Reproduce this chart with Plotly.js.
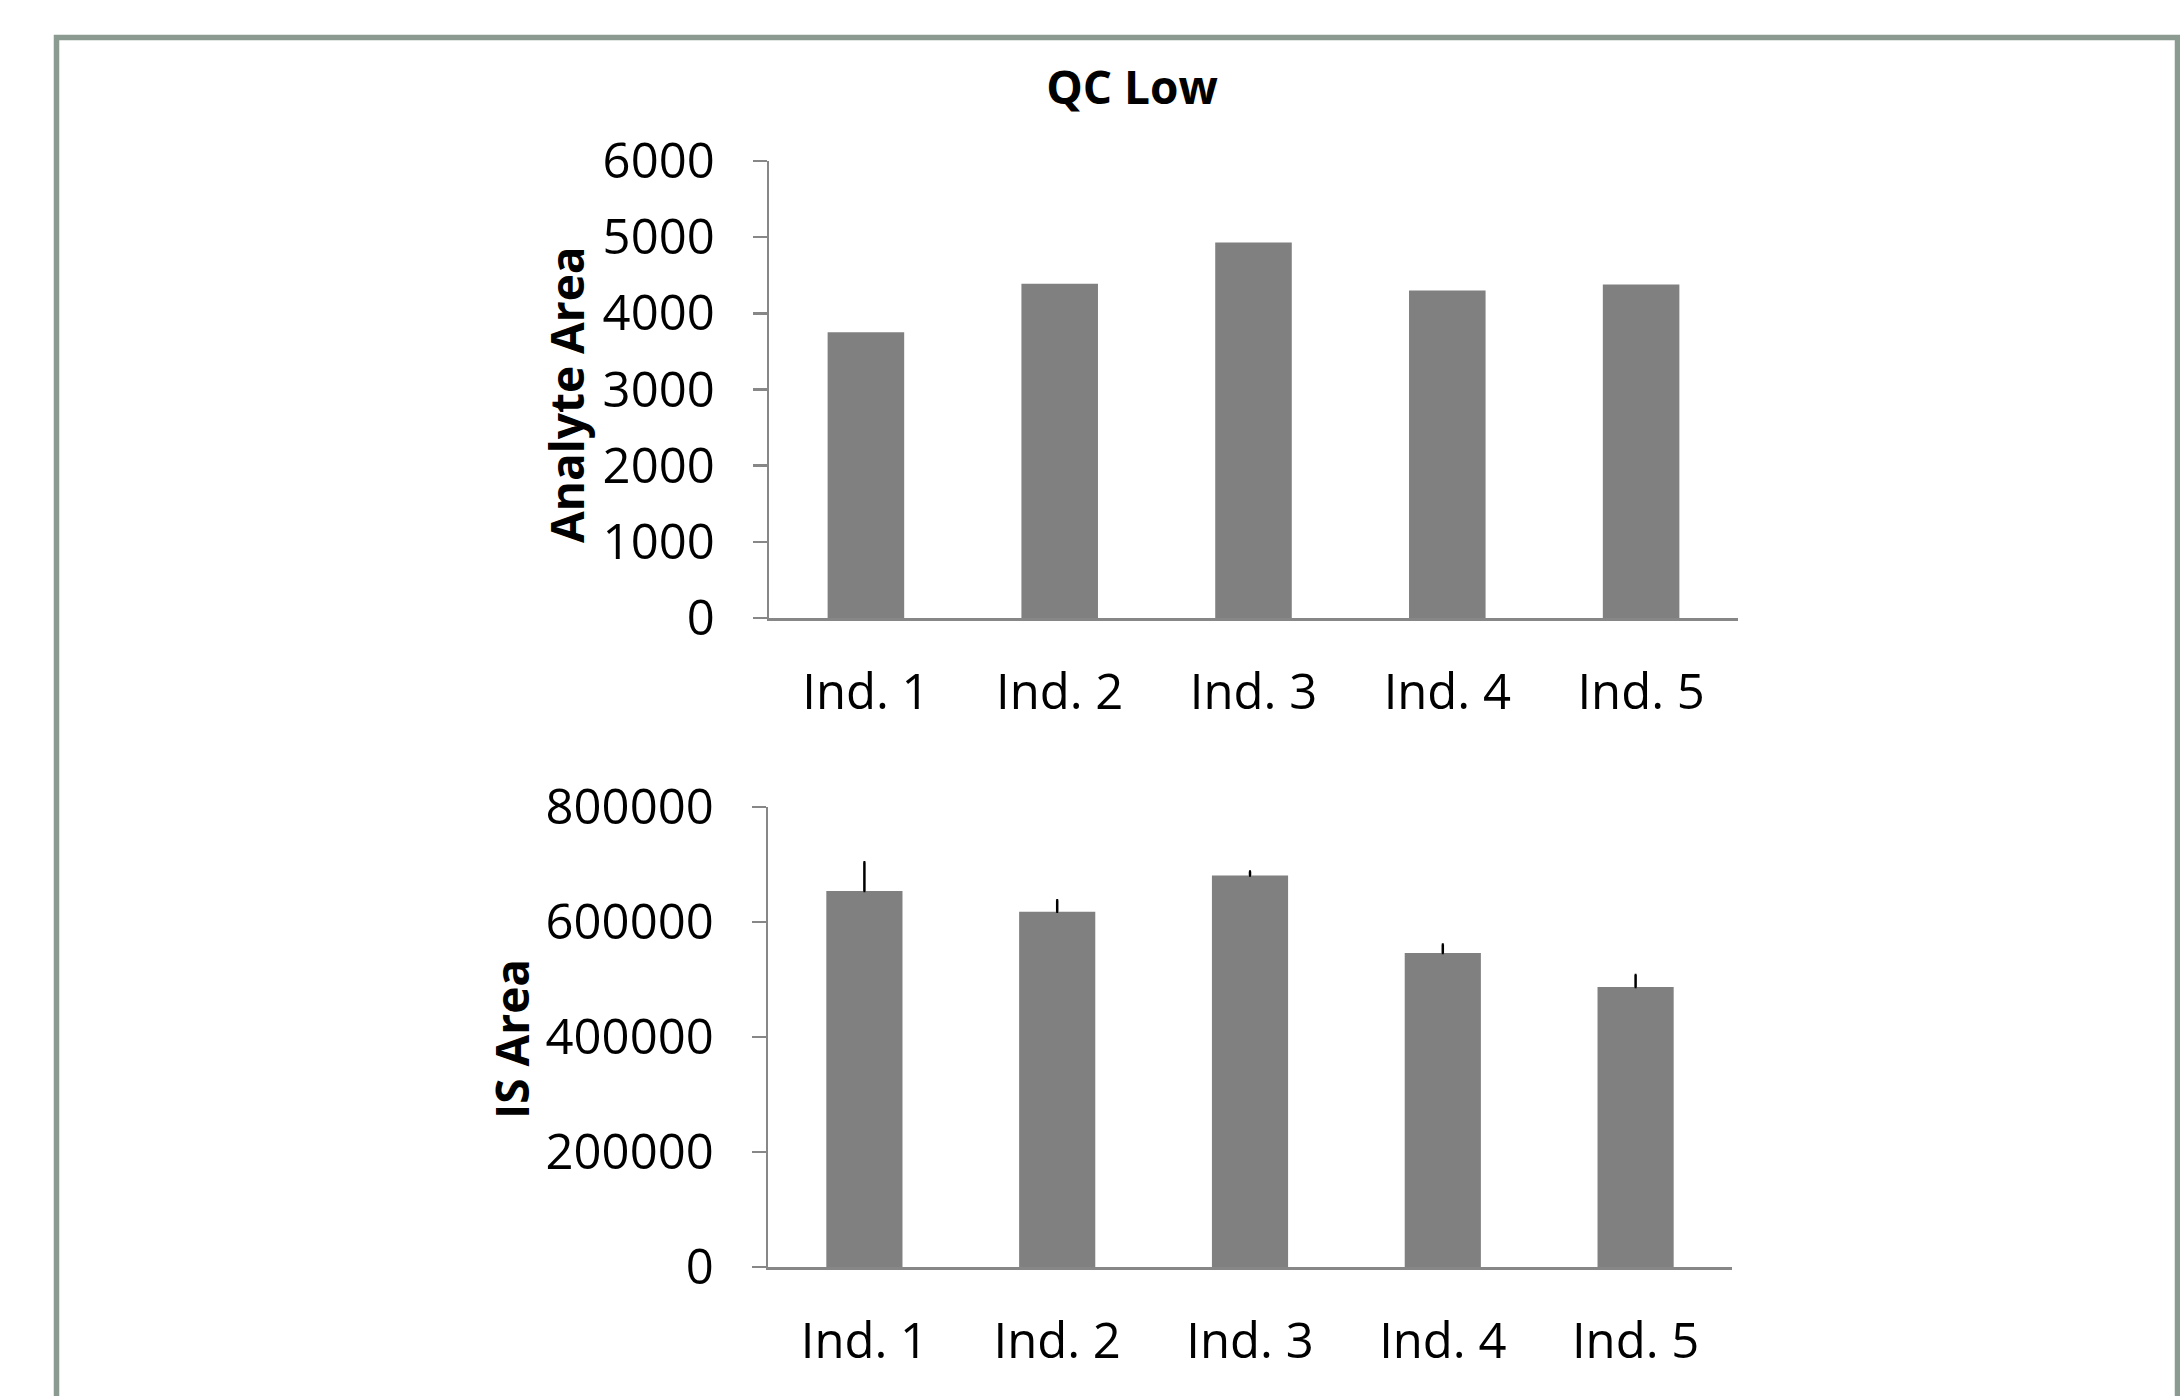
<!DOCTYPE html>
<html>
<head>
<meta charset="utf-8">
<script src="https://cdn.plot.ly/plotly-3.0.1.min.js"></script>
<style>
  html, body { margin: 0; padding: 0; background: #ffffff; }
  #chart { width: 2180px; height: 1396px; }
</style>
</head>
<body>
<div id="chart"></div>
<script>
// ---- Data ----
const categories = ["Ind. 1", "Ind. 2", "Ind. 3", "Ind. 4", "Ind. 5"];
const analyteArea = [3750, 4390, 4930, 4300, 4380];
const isArea = [654000, 618000, 681000, 546000, 487000];
const isAreaError = [50000, 20000, 7000, 15000, 21000];
const analyteTicks = [0, 1000, 2000, 3000, 4000, 5000, 6000];
const isTicks = [0, 200000, 400000, 600000, 800000];
const chartTitle = "QC Low";
const analyteTitle = "Analyte Area";
const isTitle = "IS Area";

// ---- Layout helpers ----
const W = 2180, H = 1396;
const px = v => v / W;
const py = v => 1 - v / H;
const FONT = "Open Sans, Noto Sans, sans-serif";
const axisGray = "#878787";
const barGray = "#808080";

const traces = [
  {
    type: "bar",
    x: categories,
    y: analyteArea,
    xaxis: "x",
    yaxis: "y",
    marker: { color: barGray, line: { width: 0 } },
    hoverinfo: "x+y",
    showlegend: false
  },
  {
    type: "bar",
    x: categories,
    y: isArea,
    xaxis: "x2",
    yaxis: "y2",
    marker: { color: barGray, line: { width: 0 } },
    error_y: {
      type: "data",
      symmetric: false,
      array: isAreaError,
      arrayminus: isAreaError.map(() => 0),
      color: "#000000",
      thickness: 2.5,
      width: 1
    },
    hoverinfo: "x+y",
    showlegend: false
  }
];

const tickFont = { family: FONT, size: 49, color: "#000000" };

const yCommon = {
  showgrid: false,
  zeroline: false,
  showline: true,
  linecolor: axisGray,
  linewidth: 2.5,
  ticks: "outside",
  ticklen: 14,
  tickwidth: 2.5,
  tickcolor: axisGray,
  tickfont: tickFont,
  tickformat: "d",
  ticklabelstandoff: 28,
  fixedrange: true
};
const xCommon = {
  showgrid: false,
  zeroline: false,
  showline: true,
  linecolor: axisGray,
  linewidth: 3,
  ticks: "",
  tickfont: tickFont,
  ticklabelstandoff: 29,
  fixedrange: true
};

const layout = {
  width: W,
  height: H,
  margin: { l: 0, r: 0, t: 0, b: 0 },
  paper_bgcolor: "#ffffff",
  plot_bgcolor: "#ffffff",
  bargap: 0.605,
  font: { family: FONT, color: "#000000" },
  title: {
    text: chartTitle,
    font: { family: FONT, size: 46, color: "#000000", weight: "bold" },
    x: px(1132), xanchor: "center", xref: "paper",
    y: py(88), yanchor: "middle", yref: "paper"
  },
  xaxis: Object.assign({}, xCommon, { domain: [px(769), px(1738)], anchor: "y" }),
  yaxis: Object.assign({}, yCommon, {
    domain: [py(618), py(161)], anchor: "x",
    range: [0, 6000], tickvals: analyteTicks
  }),
  xaxis2: Object.assign({}, xCommon, { domain: [px(768), px(1732)], anchor: "y2" }),
  yaxis2: Object.assign({}, yCommon, {
    domain: [py(1267), py(807)], anchor: "x2",
    range: [0, 800000], tickvals: isTicks
  }),
  annotations: [
    {
      text: "<b>" + analyteTitle + "</b>",
      xref: "paper", yref: "paper",
      x: px(566), y: py(395),
      xanchor: "center", yanchor: "middle",
      textangle: -90, showarrow: false,
      font: { family: FONT, size: 46, color: "#000000" }
    },
    {
      text: "<b>" + isTitle + "</b>",
      xref: "paper", yref: "paper",
      x: px(511), y: py(1039),
      xanchor: "center", yanchor: "middle",
      textangle: -90, showarrow: false,
      font: { family: FONT, size: 46, color: "#000000" }
    }
  ],
  shapes: [
    {
      type: "rect", xref: "paper", yref: "paper",
      x0: px(56.5), x1: px(2177.5), y0: py(1420), y1: py(37.5),
      line: { color: "#8c9b91", width: 5.5 },
      fillcolor: "rgba(0,0,0,0)",
      layer: "below"
    }
  ]
};

Plotly.newPlot("chart", traces, layout, { displayModeBar: false, staticPlot: true });
</script>
</body>
</html>
